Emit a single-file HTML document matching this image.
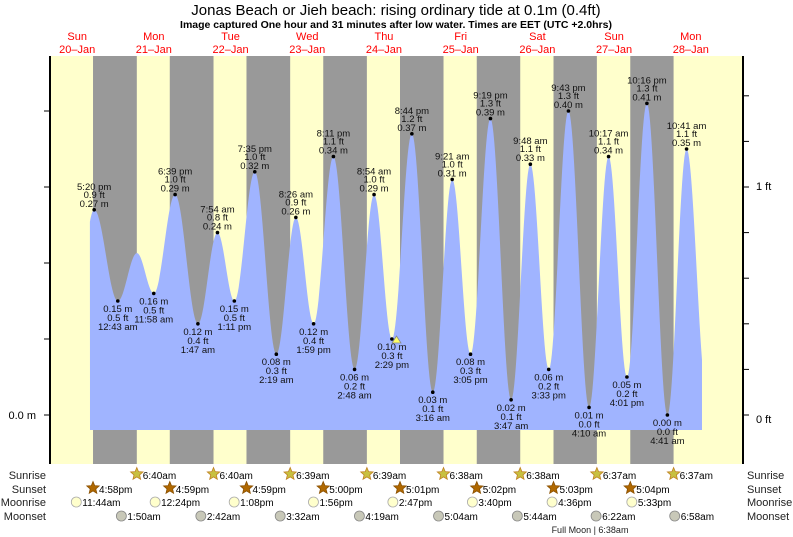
<!DOCTYPE html>
<html><head><meta charset="utf-8"><style>
body{margin:0;background:#fff;}
svg{display:block;font-family:"Liberation Sans",sans-serif;}
</style></head><body>
<svg id="s" width="793" height="537" viewBox="0 0 793 537" xmlns="http://www.w3.org/2000/svg"></svg>
<script>
const S=document.getElementById('s');let h='';
const X=t=>38.8+3.196*t, Y=m=>415-760*m;
h+='<rect x="50" y="56" width="693" height="408" fill="#ffffcc"/>';
const ss=[16+58/60,40+59/60,64+59/60,89,113+1/60,137+2/60,161+3/60,185+4/60];
const sr=[30+40/60,54+40/60,78+39/60,102+39/60,126+38/60,150+38/60,174+37/60,198+37/60];
for(let i=0;i<8;i++)h+=`<rect x="${X(ss[i])}" y="56" width="${X(sr[i])-X(ss[i])}" height="408" fill="#999999"/>`;
const ex=[[11,0.12],[17.33,0.27],[24.72,0.15,'12:43 am'],[30.7,0.213],[35.97,0.16,'11:58 am'],[42.65,0.29,'6:39 pm'],[49.78,0.12,'1:47 am'],[55.9,0.24,'7:54 am'],[61.18,0.15,'1:11 pm'],[67.58,0.32,'7:35 pm'],[74.32,0.08,'2:19 am'],[80.43,0.26,'8:26 am'],[85.98,0.12,'1:59 pm'],[92.18,0.34,'8:11 pm'],[98.8,0.06,'2:48 am'],[104.9,0.29,'8:54 am'],[110.48,0.10,'2:29 pm'],[116.73,0.37,'8:44 pm'],[123.27,0.03,'3:16 am'],[129.35,0.31,'9:21 am'],[135.08,0.08,'3:05 pm'],[141.32,0.39,'9:19 pm'],[147.78,0.02,'3:47 am'],[153.8,0.33,'9:48 am'],[159.55,0.06,'3:33 pm'],[165.72,0.40,'9:43 pm'],[172.17,0.01,'4:10 am'],[178.28,0.34,'10:17 am'],[184.02,0.05,'4:01 pm'],[190.27,0.41,'10:16 pm'],[196.68,0.00,'4:41 am'],[202.68,0.35,'10:41 am'],[209,0.03]];
ex[1][2]='5:20 pm';
function lv(t){for(let i=0;i<ex.length-1;i++){const a=ex[i],b=ex[i+1];if(t>=a[0]&&t<=b[0]){const f=(t-a[0])/(b[0]-a[0]);return a[1]+(b[1]-a[1])*(1-Math.cos(Math.PI*f))/2;}}return 0;}
let p=`M90,430 `;for(let t=16;t<=207.5;t+=0.25)p+=`L${X(t).toFixed(1)},${Y(lv(t)).toFixed(1)} `;
p+=`L702,${Y(lv(207.5)).toFixed(1)} L702,430 Z`;
h+=`<path d="${p}" fill="#a0b4ff"/>`;
const ft=m=>(m/0.3048).toFixed(1);
ex.forEach((e,i)=>{if(!e[2])return;const x=X(e[0]),y=Y(e[1]);const hi=(ex[i-1]&&ex[i-1][1]<e[1]);
h+=`<circle cx="${x}" cy="${y}" r="1.8" fill="#000"/>`;
const T=(s,yy)=>h+=`<text x="${x}" y="${yy}" font-size="9.5" text-anchor="middle" fill="#111">${s}</text>`;
if(hi){T(e[2],y-20);T(ft(e[1])+' ft',y-12);T(e[1].toFixed(2)+' m',y-3);}
else{T(e[1].toFixed(2)+' m',y+11);T(ft(e[1])+' ft',y+20);T(e[2],y+29);}});
h+=`<polygon points="392,343 401,343 396.5,336" fill="#ffff66" stroke="#888" stroke-width="0.8"/>`;
h+='<line x1="50" y1="56" x2="50" y2="464" stroke="#000" stroke-width="2"/><line x1="743" y1="56" x2="743" y2="464" stroke="#000" stroke-width="2"/>';
for(let k=0;k<5;k++){const y=415-76*k;h+=`<line x1="44" y1="${y}" x2="50" y2="${y}" stroke="#000"/>`;}
for(let k=0;k<8;k++){const y=415-45.6*k;h+=`<line x1="743" y1="${y}" x2="749" y2="${y}" stroke="#000"/>`;}
h+='<text x="36" y="419" font-size="11" text-anchor="end">0.0 m</text><text x="756" y="423" font-size="11">0 ft</text><text x="756" y="190" font-size="11">1 ft</text>';
h+='<text x="396" y="15" font-size="15" text-anchor="middle">Jonas Beach or Jieh beach: rising  ordinary tide at 0.1m (0.4ft)</text>';
h+='<text x="396" y="28" font-size="10.5" font-weight="bold" text-anchor="middle">Image captured One hour and 31 minutes after low water. Times are EET (UTC +2.0hrs)</text>';
const dn=['Sun','Mon','Tue','Wed','Thu','Fri','Sat','Sun','Mon'];
for(let i=0;i<9;i++){const x=X(24*i+12);h+=`<text x="${x}" y="40" font-size="11" fill="#ff0000" text-anchor="middle">${dn[i]}</text><text x="${x}" y="53" font-size="11" fill="#ff0000" text-anchor="middle">${20+i}–Jan</text>`;}
const rows=[['Sunrise',479],['Sunset',493],['Moonrise',506],['Moonset',520]];
rows.forEach(r=>{h+=`<text x="46" y="${r[1]}" font-size="11" text-anchor="end" fill="#222">${r[0]}</text><text x="747" y="${r[1]}" font-size="11" fill="#222">${r[0]}</text>`;});
function star(cx,cy,r,fill,st){let pt='';for(let k=0;k<10;k++){const a=-Math.PI/2+k*Math.PI/5,rr=k%2?r*0.45:r;pt+=`${(cx+rr*Math.cos(a)).toFixed(1)},${(cy+rr*Math.sin(a)).toFixed(1)} `;}return `<polygon points="${pt}" fill="${fill}" stroke="${st}" stroke-width="0.8"/>`;}
const fmt=t=>{let hh=Math.floor(t%24),mm=Math.round((t%1)*60);if(mm==60){mm=0;hh++;}const ap=hh>=12?'pm':'am';let h12=hh%12;if(h12==0)h12=12;return `${h12}:${String(mm).padStart(2,'0')}${ap}`;};
const srT=['6:40am','6:40am','6:39am','6:39am','6:38am','6:38am','6:37am','6:37am'];
const ssT=['4:58pm','4:59pm','4:59pm','5:00pm','5:01pm','5:02pm','5:03pm','5:04pm'];
for(let i=0;i<8;i++){let x=X(sr[i]);h+=star(x,474,6.5,'#c8c040','#c08020')+`<text x="${x+6}" y="479" font-size="10">${srT[i]}</text>`;
x=X(ss[i]);h+=star(x,488,6.5,'#b06800','#8a5000')+`<text x="${x+6}" y="493" font-size="10">${ssT[i]}</text>`;}
const mr=[[11+44/60,'11:44am'],[36.4,'12:24pm'],[61+8/60,'1:08pm'],[85+56/60,'1:56pm'],[110+47/60,'2:47pm'],[135+40/60,'3:40pm'],[160.6,'4:36pm'],[185.55,'5:33pm']];
const ms=[[25+50/60,'1:50am'],[50.7,'2:42am'],[75.53,'3:32am'],[100.32,'4:19am'],[125.07,'5:04am'],[149.73,'5:44am'],[174.37,'6:22am'],[198.97,'6:58am']];
mr.forEach(m=>{const x=X(m[0]);h+=`<circle cx="${x}" cy="502" r="5" fill="#ffffcc" stroke="#aaa" stroke-width="0.8"/><text x="${x+6}" y="506" font-size="10">${m[1]}</text>`;});
ms.forEach(m=>{const x=X(m[0]);h+=`<circle cx="${x}" cy="516" r="5" fill="#c8c8b8" stroke="#888" stroke-width="0.8"/><text x="${x+6}" y="520" font-size="10">${m[1]}</text>`;});
h+='<text x="590" y="533" font-size="9" text-anchor="middle" fill="#222">Full Moon | 6:38am</text>';
S.innerHTML=h;
</script>
</body></html>
